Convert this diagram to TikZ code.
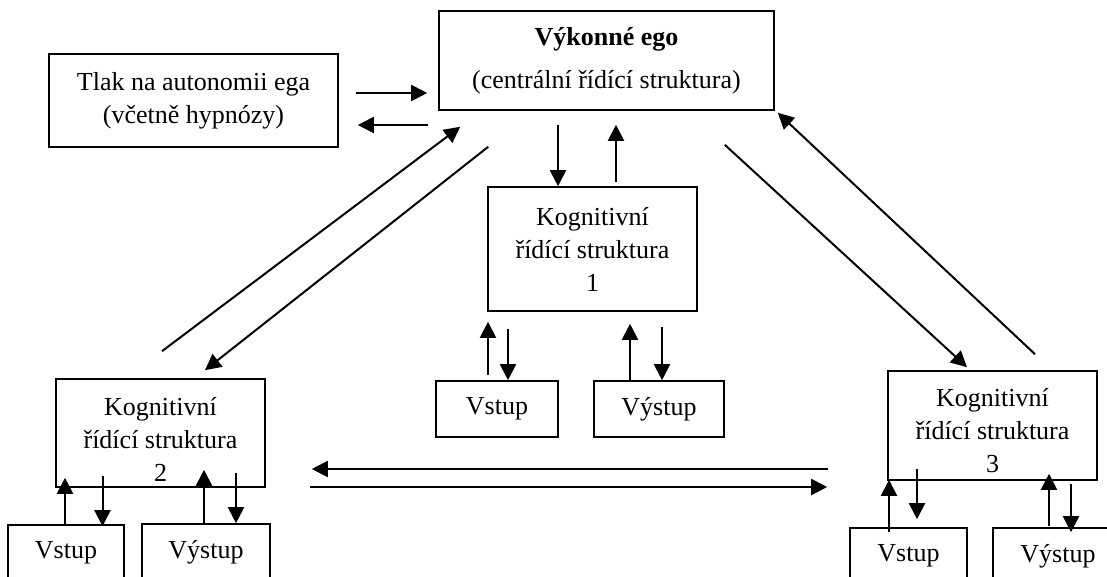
\documentclass[tikz,border=0pt]{standalone}
\usepackage{fontspec}
\setmainfont{Liberation Serif}
\usetikzlibrary{arrows.meta}

\begin{document}
\begin{tikzpicture}[
		x=0.5pt, y=-0.5pt,
		font=\fontsize{13}{16.5}\selectfont,
		box/.style={rectangle, draw, line width=0.8pt, align=center, inner sep=0pt},
		io/.style={box, minimum height=28pt},
		r/.style={-{Triangle[length=8pt, width=8pt]}, line width=1pt}
		]
		\clip (0,0) rectangle (1107,577);
		
		%Nodes
		\node[box, minimum width=144.5pt, minimum height=46.5pt] (tlak) at (193.5, 100.5) {Tlak na autonomii ega\\(včetně hypnózy)};
		\node[box, minimum width=167.5pt, minimum height=49.5pt] (ego)  at (606.5, 60.5)  {\textbf{Výkonné ego}\\[5pt](centrální řídící struktura)};
		\node[box, minimum width=104.5pt, minimum height=62pt]   (k1)   at (592.5, 249)   {Kognitivní\\řídící struktura\\1};
		\node[box, minimum width=104.5pt, minimum height=54pt]   (k2)   at (160.5, 433)   {\rule{0pt}{15pt}Kognitivní\\řídící struktura\\2};
		\node[box, minimum width=104.5pt, minimum height=54.5pt] (k3)   at (992.5, 425.5) {\rule{0pt}{14pt}Kognitivní\\řídící struktura\\3};
		\node[io, minimum width=61pt]   (vst1) at (497, 409)    {Vstup};
		\node[io, minimum width=65pt]   (vys1) at (659, 409)    {Výstup};
		\node[io, minimum width=58pt]   (vst2) at (66, 553)     {Vstup};
		\node[io, minimum width=64pt]   (vys2) at (206, 552)    {Výstup};
		\node[io, minimum width=58.5pt] (vst3) at (908.5, 556)  {Vstup};
		\node[io, minimum width=65pt]   (vys3) at (1058, 556)   {Výstup};
		
		%Lines
		\draw[r] ([shift={(17,-7.5)}]tlak.east) -- ([shift={(-11,32.5)}]ego.west);
		\draw[r] ([shift={(-10,64.5)}]ego.west) -- ([shift={(19,24.5)}]tlak.east);
		
		\draw[r] ([shift={(-48.5,14)}]ego.south) -- ([shift={(-34.5,0)}]k1.north);
		\draw[r] ([shift={(23.5,-4)}]k1.north)   -- ([shift={(9.5,14)}]ego.south);
		
		\draw[r] ([shift={(1.5,-27)}]k2.north)      -- ([shift={(22,16)}]ego.south west);
		\draw[r] ([shift={(50,36)}]ego.south west)  -- ([shift={(44.5,-8)}]k2.north);
		\draw[r] ([shift={(-50,34)}]ego.south east) -- ([shift={(-25.5,-3)}]k3.north);
		\draw[r] ([shift={(42.5,-16)}]k3.north)     -- ([shift={(3,2)}]ego.south east);
		
		\draw[r] ([shift={(-9,-5)}]vst1.north)   -- ([shift={(-104.5,10)}]k1.south);
		\draw[r] ([shift={(-84.5,17)}]k1.south)  -- ([shift={(11,0)}]vst1.north);
		\draw[r] ([shift={(-29,0)}]vys1.north)   -- ([shift={(37.5,12)}]k1.south);
		\draw[r] ([shift={(69.5,15)}]k1.south)   -- ([shift={(3,0)}]vys1.north);
		
		\draw[r] ([shift={(-1,0)}]vst2.north)    -- ([shift={(-95.5,-10)}]k2.south);
		\draw[r] ([shift={(-58,-12)}]k2.south)   -- ([shift={(36.5,2)}]vst2.north);
		\draw[r] ([shift={(-2,1)}]vys2.north)    -- ([shift={(43.5,-18)}]k2.south);
		\draw[r] ([shift={(75.5,-15)}]k2.south)  -- ([shift={(30,0)}]vys2.north);
		
		\draw[r] ([shift={(-19.5,5)}]vst3.north) -- ([shift={(-103.5,-1)}]k3.south);
		\draw[r] ([shift={(-75.5,-12)}]k3.south) -- ([shift={(8.5,-8)}]vst3.north);
		\draw[r] ([shift={(-9,-1)}]vys3.north)   -- ([shift={(56.5,-7)}]k3.south);
		\draw[r] ([shift={(78.5,3)}]k3.south)    -- ([shift={(13,5)}]vys3.north);
		
		\draw[r] ([shift={(-59,43.5)}]k3.west) -- ([shift={(46,36)}]k2.east);
		\draw[r] ([shift={(44,54)}]k2.east)    -- ([shift={(-60,61.5)}]k3.west);
		
	\end{tikzpicture}
\end{document}
